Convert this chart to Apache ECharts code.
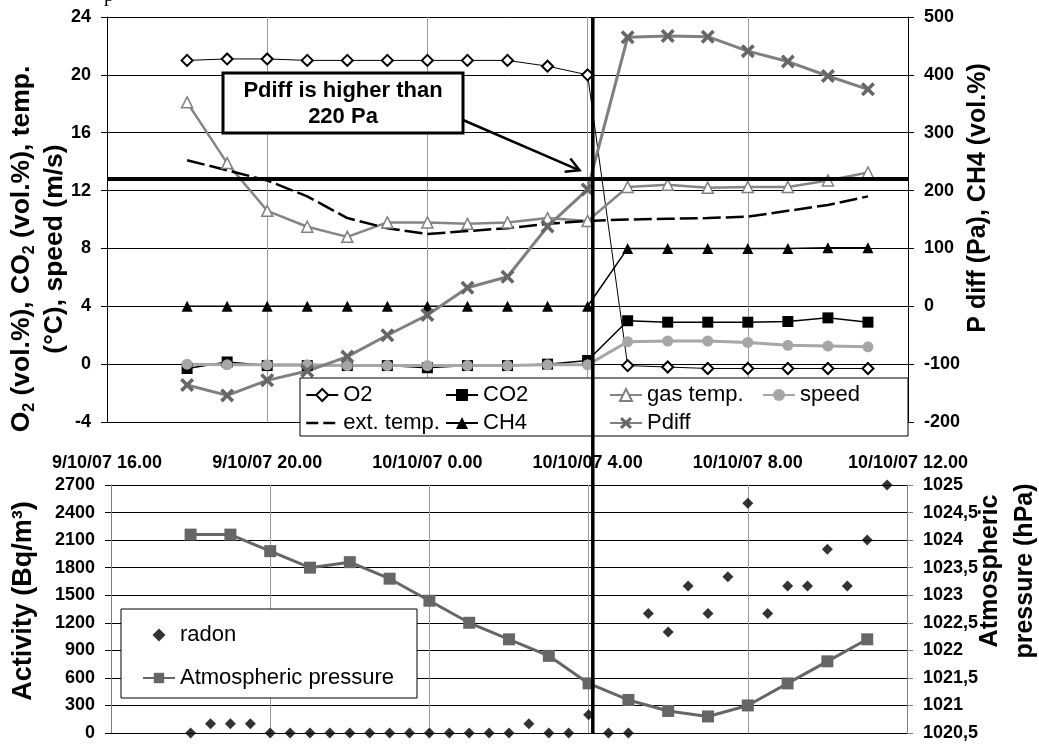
<!DOCTYPE html>
<html><head><meta charset="utf-8">
<script src="https://cdn.jsdelivr.net/npm/echarts@6/dist/echarts.min.js"></script>
<style>html,body{margin:0;padding:0;background:#fff}#c{width:1039px;height:747px}</style>
</head><body><div id="c"></div>
<script>
// ---- data (hours counted from 9/10/07 0.00) ----
const hours = [18,19,20,21,22,23,24,25,26,27,28,29,30,31,32,33,34,35];
const o2 = [21.0,21.1,21.1,21.0,21.0,21.0,21.0,21.0,21.0,20.6,20.0,-0.1,-0.2,-0.3,-0.3,-0.3,-0.3,-0.3];
const co2 = [-0.3,0.15,-0.1,-0.1,-0.1,-0.1,-0.25,-0.1,-0.1,0.0,0.25,3.0,2.9,2.9,2.9,2.95,3.2,2.9];
const gasTemp = [18.1,13.9,10.6,9.5,8.8,9.8,9.8,9.7,9.8,10.1,9.9,12.25,12.4,12.2,12.25,12.25,12.7,13.25];
const speed = [0.0,-0.05,-0.05,-0.05,-0.1,-0.1,-0.1,-0.1,-0.1,-0.05,-0.05,1.55,1.6,1.6,1.5,1.3,1.25,1.2];
const extTemp = [14.1,13.4,12.7,11.6,10.1,9.4,9.0,9.2,9.4,9.7,9.9,10.0,10.05,10.1,10.2,10.6,11.0,11.6];
const ch4 = [0,0,0,0,0,0,0,0,0,0,0,100,100,100,100,100,101,101];
const pdiff = [-136,-154,-128,-112,-87,-50,-15,32,51,138,202,465,467,466,441,423,398,375];
const pressure = [1024.1,1024.1,1023.8,1023.5,1023.6,1023.3,1022.9,1022.5,1022.2,1021.9,1021.4,1021.1,1020.9,1020.8,1021.0,1021.4,1021.8,1022.2];
const radonHours = [18,18.5,19,19.5,20,20.5,21,21.5,22,22.5,23,23.5,24,24.5,25,25.5,26,26.5,27,27.5,28,28.5,29,29.5,30,30.5,31,31.5,32,32.5,33,33.5,34,34.5,35,35.5];
const radon = [0,100,100,100,0,0,0,0,0,0,0,0,0,0,0,0,0,100,0,0,200,0,0,1300,1100,1600,1300,1700,2500,1300,1600,1600,2000,1600,2100,2700];
const xTicks = [16,20,24,28,32,36];
const pdiffLimit = 220;
const thresholdHour = 28.13;

const F = 'Liberation Sans, Arial, Helvetica, sans-serif';
const pairs = (xs, ys) => xs.map((x, i) => [x, ys[i]]);
const timeLabel = v => v < 24 ? '9/10/07 ' + v + '.00' : '10/10/07 ' + (v - 24) + '.00';
const crossPath = 'path://M1.8 0 L5 3.2 L8.2 0 L10 1.8 L6.8 5 L10 8.2 L8.2 10 L5 6.8 L1.8 10 L0 8.2 L3.2 5 L0 1.8 Z';
const diamondPath = 'path://M5 0 L10 5 L5 10 L0 5 Z';

const chart = echarts.init(document.getElementById('c'));
const tickLbl = {fontSize: 18, fontWeight: 'bold', color: '#000', fontFamily: F};
const legendBase = {orient: 'vertical', padding: 0, itemWidth: 32, itemHeight: 15, itemGap: 6,
  textStyle: {fontSize: 22, lineHeight: 22, fontFamily: F, color: '#000'}, z: 20, selectedMode: false};

chart.setOption({
  animation: false,
  backgroundColor: '#fff',
  grid: [
    {left: 107, top: 17, width: 801, height: 405},
    {left: 111, top: 485, width: 796, height: 248}
  ],
  xAxis: [
    {type: 'value', gridIndex: 0, min: xTicks[0], max: xTicks[xTicks.length - 1], interval: 4,
     axisLine: {lineStyle: {color: '#000'}}, axisTick: {show: false},
     axisLabel: Object.assign({margin: 32, formatter: timeLabel}, tickLbl),
     splitLine: {show: true, lineStyle: {color: '#9a9a9a', width: 1}}},
    {type: 'value', gridIndex: 1, min: xTicks[0], max: xTicks[xTicks.length - 1], interval: 4,
     axisLine: {lineStyle: {color: '#000'}}, axisTick: {show: false}, axisLabel: {show: false},
     splitLine: {show: true, lineStyle: {color: '#9a9a9a', width: 1}}}
  ],
  yAxis: [
    {type: 'value', gridIndex: 0, min: -4, max: 24, interval: 4,
     axisLine: {show: true, lineStyle: {color: '#000'}},
     axisTick: {show: true, length: 6, lineStyle: {color: '#000'}},
     axisLabel: Object.assign({margin: 16, formatter: v => String(v)}, tickLbl),
     splitLine: {show: true, lineStyle: {color: '#000', width: 1}}},
    {type: 'value', gridIndex: 0, position: 'right', min: -200, max: 500, interval: 100,
     axisLine: {show: true, lineStyle: {color: '#000'}},
     axisTick: {show: true, length: 6, lineStyle: {color: '#000'}},
     axisLabel: Object.assign({margin: 16, formatter: v => String(v)}, tickLbl),
     splitLine: {show: false}},
    {type: 'value', gridIndex: 1, min: 0, max: 2700, interval: 300,
     axisLine: {show: true, lineStyle: {color: '#808080'}},
     axisTick: {show: true, length: 6, lineStyle: {color: '#000'}},
     axisLabel: Object.assign({margin: 16, formatter: v => String(v)}, tickLbl),
     splitLine: {show: true, lineStyle: {color: '#000', width: 1}}},
    {type: 'value', gridIndex: 1, position: 'right', min: 1020.5, max: 1025, interval: 0.5,
     axisLine: {show: true, lineStyle: {color: '#808080'}},
     axisTick: {show: true, length: 6, lineStyle: {color: '#808080'}},
     axisLabel: Object.assign({margin: 16, formatter: v => String(v).replace('.', ',')}, tickLbl),
     splitLine: {show: false}}
  ],
  legend: [
    Object.assign({}, legendBase, {data: ['O2', {name: 'ext. temp.', itemStyle: {opacity: 0},
      lineStyle: {type: [12, 5], width: 2.5, color: '#000'}}], left: 305, top: 384}),
    Object.assign({}, legendBase, {data: ['CO2', 'CH4'], left: 445, top: 384}),
    Object.assign({}, legendBase, {data: ['gas temp.', 'Pdiff'], left: 609, top: 384}),
    Object.assign({}, legendBase, {data: ['speed'], left: 762, top: 384}),
    Object.assign({}, legendBase, {data: [{name: 'radon', icon: diamondPath}, 'Atmospheric pressure'],
      itemHeight: 13, left: 142, top: 624, itemGap: 21})
  ],
  series: [
    {name: 'O2', type: 'line', xAxisIndex: 0, yAxisIndex: 0, data: pairs(hours, o2),
     symbol: 'diamond', symbolSize: 11, lineStyle: {color: '#000', width: 1},
     itemStyle: {color: '#fff', borderColor: '#000', borderWidth: 2}},
    {name: 'CO2', type: 'line', xAxisIndex: 0, yAxisIndex: 0, data: pairs(hours, co2),
     symbol: 'rect', symbolSize: 11, lineStyle: {color: '#000', width: 1.5}, itemStyle: {color: '#000'}},
    {name: 'gas temp.', type: 'line', xAxisIndex: 0, yAxisIndex: 0, data: pairs(hours, gasTemp),
     symbol: 'triangle', symbolSize: 11, lineStyle: {color: '#858585', width: 2.5},
     itemStyle: {color: '#fff', borderColor: '#808080', borderWidth: 1.5}},
    {name: 'speed', type: 'line', xAxisIndex: 0, yAxisIndex: 0, data: pairs(hours, speed),
     symbol: 'circle', symbolSize: 11, lineStyle: {color: '#a6a6a6', width: 3}, itemStyle: {color: '#a6a6a6'}},
    {name: 'ext. temp.', type: 'line', xAxisIndex: 0, yAxisIndex: 0, data: pairs(hours, extTemp),
     symbol: 'none', lineStyle: {color: '#000', width: 2.5, type: [18, 5]}, itemStyle: {color: '#000'}},
    {name: 'CH4', type: 'line', xAxisIndex: 0, yAxisIndex: 1, data: pairs(hours, ch4),
     symbol: 'triangle', symbolSize: 11, lineStyle: {color: '#000', width: 1.5}, itemStyle: {color: '#000'}},
    {name: 'Pdiff', type: 'line', xAxisIndex: 0, yAxisIndex: 1, data: pairs(hours, pdiff),
     symbol: crossPath, symbolSize: 14, lineStyle: {color: '#7f7f7f', width: 3}, itemStyle: {color: '#666'},
     markLine: {silent: true, symbol: ['none', 'none'], label: {show: false},
       lineStyle: {color: '#000', width: 4, type: 'solid'}, data: [{yAxis: pdiffLimit}]}},
    {name: 'radon', type: 'scatter', xAxisIndex: 1, yAxisIndex: 2, data: pairs(radonHours, radon),
     symbol: 'diamond', symbolSize: 11, itemStyle: {color: '#000'}},
    {name: 'Atmospheric pressure', type: 'line', xAxisIndex: 1, yAxisIndex: 3, data: pairs(hours, pressure),
     symbol: 'rect', symbolSize: 12, lineStyle: {color: '#666', width: 3}, itemStyle: {color: '#666'}}
  ]
});

// ---- annotations placed with the library's own scales ----
const vx = chart.convertToPixel({xAxisIndex: 0}, thresholdHour);
const vTop = chart.convertToPixel({yAxisIndex: 0}, 24);
const vBot = chart.convertToPixel({yAxisIndex: 2}, 0);
const tipX = chart.convertToPixel({xAxisIndex: 0}, 27.8);
const tipY = chart.convertToPixel({yAxisIndex: 1}, 235);
const sx = 463, sy = 120;
const ang = Math.atan2(tipY - sy, tipX - sx);
const hl = 15, ha = 0.5;
const w1 = [tipX - hl * Math.cos(ang - ha), tipY - hl * Math.sin(ang - ha)];
const w2 = [tipX - hl * Math.cos(ang + ha), tipY - hl * Math.sin(ang + ha)];
const titleStyle = {fontSize: 25, fontWeight: 'bold', fontFamily: F, fill: '#000', align: 'center', verticalAlign: 'middle'};

chart.setOption({
  graphic: [
    {type: 'rect', shape: {x: 300, y: 378, width: 608, height: 58}, style: {fill: '#fff', stroke: '#000', lineWidth: 1}, z: 10},
    {type: 'rect', shape: {x: 121, y: 609, width: 296, height: 89}, style: {fill: '#fff', stroke: '#000', lineWidth: 1}, z: 10},
    {type: 'rect', shape: {x: 223, y: 73, width: 240, height: 60}, style: {fill: '#fff', stroke: '#000', lineWidth: 3}, z: 10},
    {type: 'text', x: 343, y: 104, z: 11,
     style: {text: 'Pdiff is higher than\n220 Pa', fontSize: 22, fontWeight: 'bold', fontFamily: F, fill: '#000',
             align: 'center', verticalAlign: 'middle', lineHeight: 26}},
    {type: 'polyline', shape: {points: [[sx, sy], [tipX, tipY]]}, style: {stroke: '#000', lineWidth: 2.5}, z: 12},
    {type: 'polyline', shape: {points: [w1, [tipX, tipY], w2]}, style: {stroke: '#000', lineWidth: 2.5, fill: null}, z: 12},
    {type: 'line', shape: {x1: vx, y1: vTop, x2: vx, y2: vBot}, style: {stroke: '#000', lineWidth: 3.5}, z: 30},
    {type: 'text', x: 104, y: -14, style: {text: 'p', fontSize: 20, fontFamily: 'Liberation Serif, serif', fill: '#000'}},
    {type: 'text', x: 38, y: 249, rotation: Math.PI / 2,
     style: Object.assign({}, titleStyle, {
       text: '{t|O}{s|2}{t| (vol.%), CO}{s|2}{t| (vol.%), temp.}\n{t|(°C), speed (m/s)}',
       rich: {t: {fontSize: 26.5, fontWeight: 'bold', fontFamily: F, lineHeight: 33},
              s: {fontSize: 16, fontWeight: 'bold', fontFamily: F, lineHeight: 21, verticalAlign: 'bottom'}}})},
    {type: 'text', x: 978, y: 198, rotation: Math.PI / 2, style: Object.assign({}, titleStyle, {text: 'P diff (Pa), CH4 (vol.%)'})},
    {type: 'text', x: 24, y: 601, rotation: Math.PI / 2, style: Object.assign({}, titleStyle, {text: 'Activity (Bq/m³)', fontSize: 27})},
    {type: 'text', x: 1008, y: 571, rotation: Math.PI / 2, style: Object.assign({}, titleStyle, {text: 'Atmospheric\npressure (hPa)', lineHeight: 35})}
  ]
});
</script>
</body></html>
